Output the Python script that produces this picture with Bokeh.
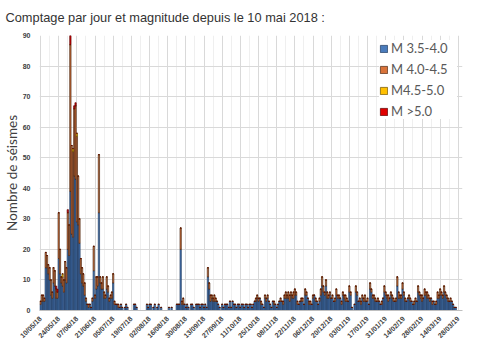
import math
from bokeh.plotting import figure
from bokeh.models import ColumnDataSource, Range1d, FixedTicker, SingleIntervalTicker
from bokeh.embed import file_html
from bokeh.resources import INLINE

title_text = "Comptage par jour et magnitude depuis le 10 mai 2018 :"
y_title = "Nombre de séismes"
series_names = ["M 3.5-4.0", "M 4.0-4.5", "M4.5-5.0", "M >5.0"]
series_colors = ["#4a7cbc", "#d9733a", "#ffc000", "#e00000"]
edge_colors = ["#1f3a5f", "#4a2814", "#6f5200", "#5a0000"]

# daily counts since 10 May 2018 (day 0 = 10/05/18)
m35_40 = [
    2, 3, 3, 3, 14, 14, 12, 10, 5, 4,
    9, 8, 4, 4, 17, 12, 9, 8, 6, 10,
    9, 20, 18, 39, 25, 24, 44, 43, 29, 28,
    22, 12, 9, 8, 5, 3, 2, 1, 2, 1,
    3, 13, 4, 7, 8, 32, 9, 7, 7, 4,
    4, 7, 6, 3, 4, 4, 9, 2, 2, 2,
    1, 1, 2, 1, 0, 1, 2, 1, 0, 0,
    0, 0, 2, 2, 1, 0, 0, 0, 0, 0,
    0, 0, 2, 1, 2, 2, 0, 1, 2, 0,
    1, 2, 0, 1, 0, 0, 0, 0, 0, 1,
    0, 1, 0, 0, 0, 2, 2, 2, 20, 2,
    2, 2, 1, 2, 1, 0, 2, 2, 1, 0,
    2, 2, 2, 1, 2, 2, 1, 2, 1, 11,
    7, 3, 4, 3, 3, 3, 3, 2, 1, 0,
    2, 1, 2, 2, 2, 1, 3, 1, 3, 2,
    2, 1, 2, 2, 1, 2, 2, 1, 2, 2,
    1, 2, 2, 1, 2, 3, 3, 4, 3, 4,
    2, 2, 1, 4, 3, 4, 3, 2, 1, 3,
    2, 2, 1, 2, 3, 3, 3, 2, 4, 4,
    4, 4, 3, 5, 4, 4, 5, 5, 2, 2,
    3, 3, 3, 2, 5, 5, 4, 2, 2, 2,
    4, 5, 3, 3, 2, 3, 5, 8, 6, 5,
    8, 4, 4, 5, 4, 4, 3, 3, 5, 4,
    4, 4, 2, 5, 4, 3, 3, 3, 6, 5,
    1, 0, 2, 6, 5, 3, 3, 2, 4, 3,
    3, 3, 3, 2, 7, 6, 4, 4, 3, 3,
    3, 3, 2, 2, 4, 6, 5, 4, 3, 4,
    5, 4, 3, 3, 3, 8, 4, 4, 4, 7,
    5, 3, 3, 4, 4, 3, 3, 2, 2, 3,
    3, 6, 5, 4, 3, 4, 5, 5, 4, 4,
    3, 4, 2, 3, 2, 2, 4, 4, 5, 5,
    4, 6, 5, 4, 3, 3, 3, 3, 2, 1, 1,
]
m40_45 = [
    1, 2, 2, 1, 5, 4, 3, 4, 5, 2,
    5, 5, 3, 2, 15, 8, 2, 3, 4, 6,
    5, 12, 10, 48, 29, 28, 22, 24, 28, 16,
    8, 5, 5, 4, 4, 1, 0, 1, 0, 0,
    1, 8, 1, 4, 3, 19, 2, 2, 4, 2,
    1, 4, 2, 1, 1, 2, 3, 1, 0, 0,
    1, 0, 0, 0, 0, 0, 0, 0, 0, 0,
    0, 0, 0, 0, 0, 0, 0, 0, 0, 0,
    0, 0, 0, 0, 0, 0, 0, 0, 0, 0,
    0, 0, 0, 0, 0, 0, 0, 0, 0, 0,
    0, 0, 0, 0, 0, 0, 0, 0, 7, 1,
    2, 0, 0, 0, 0, 0, 0, 0, 0, 0,
    0, 0, 0, 0, 0, 0, 0, 0, 0, 3,
    2, 2, 1, 1, 2, 1, 0, 0, 0, 0,
    0, 0, 0, 0, 0, 0, 0, 0, 0, 0,
    0, 0, 0, 0, 0, 0, 0, 0, 0, 0,
    0, 0, 0, 0, 0, 0, 1, 1, 1, 0,
    1, 0, 0, 1, 1, 1, 0, 0, 0, 0,
    1, 0, 0, 0, 0, 1, 0, 1, 1, 2,
    1, 2, 2, 1, 1, 2, 2, 1, 1, 0,
    0, 1, 1, 0, 2, 1, 0, 1, 1, 0,
    1, 0, 1, 0, 0, 1, 2, 3, 2, 1,
    2, 2, 1, 1, 0, 1, 0, 1, 2, 1,
    1, 0, 1, 1, 1, 2, 1, 0, 2, 1,
    0, 0, 0, 2, 1, 0, 1, 1, 1, 1,
    2, 0, 1, 0, 2, 1, 1, 1, 1, 0,
    1, 0, 0, 1, 0, 2, 1, 1, 2, 0,
    1, 1, 1, 0, 1, 3, 2, 1, 1, 2,
    1, 1, 0, 0, 1, 1, 0, 0, 1, 1,
    0, 2, 1, 1, 2, 0, 2, 1, 2, 1,
    1, 0, 1, 0, 0, 1, 2, 1, 2, 1,
    1, 2, 1, 1, 1, 0, 1, 0, 0, 0, 0,
]
m45_50_days = [17, 25, 28]
m45_50_counts = [1, 1, 1]
m50_days = [12, 13, 21, 23, 26, 27]
m50_counts = [1, 1, 1, 3, 1, 1]

tick_days = [0, 14, 28, 42, 56, 70, 84, 98, 112, 126, 140, 154,
             168, 182, 196, 210, 224, 238, 252, 266, 280, 294, 308, 322]
tick_labels = ["10/05/18", "24/05/18", "07/06/18", "21/06/18", "05/07/18", "19/07/18",
               "02/08/18", "16/08/18", "30/08/18", "13/09/18", "27/09/18", "11/10/18",
               "25/10/18", "08/11/18", "22/11/18", "06/12/18", "20/12/18", "03/01/19",
               "17/01/19", "31/01/19", "14/02/19", "28/02/19", "14/03/19", "28/03/19"]

n = min(len(m35_40), len(m40_45))
days = list(range(n))
m45_50 = [0] * n
for d, c in zip(m45_50_days, m45_50_counts):
    m45_50[d] = c
m50 = [0] * n
for d, c in zip(m50_days, m50_counts):
    m50[d] = c

source = ColumnDataSource(dict(day=days, s1=m35_40[:n], s2=m40_45[:n], s3=m45_50, s4=m50))

W, H = 474, 344
p = figure(width=W, height=H, x_range=Range1d(-0.8, 325.2), y_range=Range1d(0, 90),
           title=title_text, output_backend="svg", toolbar_location=None,
           min_border_top=34, min_border_right=12, min_border_left=26, min_border_bottom=0)
p.outline_line_color = None
p.background_fill_color = "white"

p.title.text_font = "Liberation Sans"
p.title.text_font_size = "12.8px"
p.title.text_font_style = "normal"
p.title.text_color = "#333333"
p.title.align = "left"
p.title.vertical_align = "top"
p.title.offset = -34
p.title.standoff = 18

p.vbar_stack(["s1", "s2", "s3", "s4"], x="day", width=1.0, source=source,
             fill_color=series_colors, line_color=edge_colors, line_width=0.7,
             legend_label=series_names)

minor = [t + 7 for t in tick_days[:-1]]
p.xaxis.ticker = FixedTicker(ticks=tick_days, minor_ticks=minor)
p.xaxis.major_label_overrides = {t: l for t, l in zip(tick_days, tick_labels)}
p.xaxis.major_label_orientation = math.pi / 4
p.xaxis.major_label_text_font = "Liberation Sans"
p.xaxis.major_label_text_font_size = "7px"
p.xaxis.major_label_text_font_style = "bold"
p.xaxis.major_label_text_color = "#404040"
p.xaxis.axis_line_color = "#bfbfbf"
p.xaxis.major_tick_line_color = None
p.xaxis.minor_tick_line_color = None
p.xaxis.major_label_standoff = 1

p.yaxis.ticker = SingleIntervalTicker(interval=10)
p.yaxis.axis_label = y_title
p.yaxis.axis_label_text_font = "Lato"
p.yaxis.axis_label_text_font_size = "13.5px"
p.yaxis.axis_label_text_font_style = "normal"
p.yaxis.axis_label_text_color = "#404040"
p.yaxis.axis_label_standoff = 0
p.yaxis.major_label_text_font = "Liberation Sans"
p.yaxis.major_label_text_font_size = "7px"
p.yaxis.major_label_text_font_style = "bold"
p.yaxis.major_label_text_color = "#404040"
p.yaxis.axis_line_color = None
p.yaxis.major_tick_line_color = None
p.yaxis.minor_tick_line_color = None
p.yaxis.major_label_standoff = 3

p.xgrid.grid_line_color = "#d9d9d9"
p.xgrid.minor_grid_line_color = "#efefef"
p.ygrid.grid_line_color = "#d9d9d9"

lg = p.legend[0]
lg.location = "top_right"
lg.margin = 5
lg.padding = 5
lg.spacing = 5
lg.glyph_width = 9
lg.glyph_height = 9
lg.label_standoff = 3
lg.label_width = 66
lg.label_text_font = "Lato"
lg.label_text_font_size = "13px"
lg.label_text_color = "#595959"
lg.border_line_color = None
lg.background_fill_color = "white"
lg.background_fill_alpha = 1.0

open("out.html", "w").write(file_html(p, INLINE))
